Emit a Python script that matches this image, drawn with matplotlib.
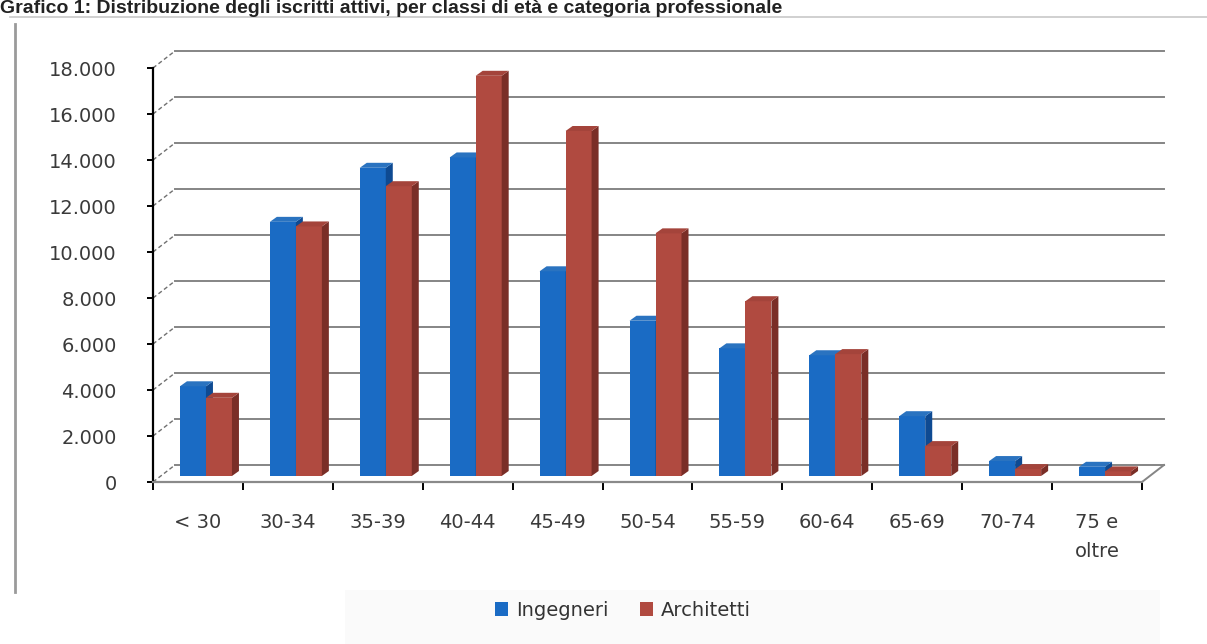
import matplotlib
matplotlib.use("Agg")
import matplotlib.pyplot as plt
from matplotlib.patches import Polygon, Patch, Rectangle
from matplotlib.lines import Line2D

# dati
categorie = ['< 30', '30-34', '35-39', '40-44', '45-49', '50-54',
             '55-59', '60-64', '65-69', '70-74', '75 e\noltre']
ingegneri = [3900, 11050, 13400, 13850, 8900, 6750, 5550, 5250, 2600, 650, 400]
architetti = [3400, 10850, 12600, 17400, 15000, 10550, 7600, 5300, 1300, 300, 200]
y_ticks = [0, 2000, 4000, 6000, 8000, 10000, 12000, 14000, 16000, 18000]
y_labels = ['0', '2.000', '4.000', '6.000', '8.000', '10.000',
            '12.000', '14.000', '16.000', '18.000']
serie = ['Ingegneri', 'Architetti']
titolo = 'Grafico 1: Distribuzione degli iscritti attivi, per classi di età e categoria professionale'

W, H = 1207, 644
fig = plt.figure(figsize=(W / 100, H / 100), dpi=100)
fig.patch.set_facecolor('white')

# posizione del piano frontale in pixel
x0, x1, y0, y1 = 153, 1142, 482, 68
ax = fig.add_axes([x0 / W, 1 - y0 / H, (x1 - x0) / W, (y0 - y1) / H])
ax.set_xlim(-0.5, len(categorie) - 0.5)
ax.set_ylim(0, 18000)
ax.set_facecolor('none')

px_x = len(categorie) / (x1 - x0)
px_y = 18000 / (y0 - y1)

wall_dx, wall_dy = 22 * px_x, 17 * px_y
bar_w = 26 * px_x
side_dx, top_dy = 7 * px_x, 5 * px_y
shift_x, shift_y = 8 * px_x, 6 * px_y

xl, xr = -0.5, len(categorie) - 0.5

# parete di fondo: griglia
for v in y_ticks:
    ax.add_line(Line2D([xl + wall_dx, xr + wall_dx], [v + wall_dy, v + wall_dy],
                       color='#858585', lw=1.4, clip_on=False, zorder=1))
    ax.add_line(Line2D([xl, xl + wall_dx], [v, v + wall_dy], color='#707070',
                       lw=1.0, ls=(0, (3, 2)), clip_on=False, zorder=1))
ax.add_line(Line2D([xr, xr + wall_dx], [0, wall_dy], color='#858585', lw=1.4,
                   clip_on=False, zorder=1))

colori = {
    'Ingegneri': ('#1a6bc4', '#0e4a92', '#2a73c0'),
    'Architetti': ('#b04a40', '#7a2e27', '#a4443b'),
}

xs = list(range(len(categorie)))
for nome, valori, off in [('Ingegneri', ingegneri, -bar_w / 2),
                          ('Architetti', architetti, bar_w / 2)]:
    front, side, top = colori[nome]
    pos = [x + off + shift_x for x in xs]
    bars = ax.bar(pos, valori, width=bar_w, bottom=shift_y, color=front,
                  edgecolor='none', zorder=3, clip_on=False)
    for b in bars:
        bx, by = b.get_x(), b.get_y()
        bw, bh = b.get_width(), b.get_height()
        ax.add_patch(Polygon([(bx + bw, by), (bx + bw + side_dx, by + top_dy),
                              (bx + bw + side_dx, by + bh + top_dy), (bx + bw, by + bh)],
                             closed=True, facecolor=side, edgecolor='none',
                             zorder=3, clip_on=False))
        ax.add_patch(Polygon([(bx, by + bh), (bx + bw, by + bh),
                              (bx + bw + side_dx, by + bh + top_dy),
                              (bx + side_dx, by + bh + top_dy)],
                             closed=True, facecolor=top, edgecolor='none',
                             zorder=3, clip_on=False))

# assi
for s in ['top', 'right']:
    ax.spines[s].set_visible(False)
ax.spines['left'].set_color('black')
ax.spines['left'].set_linewidth(1.6)
ax.spines['bottom'].set_color('#8a8a8a')
ax.spines['bottom'].set_linewidth(1.6)

ax.set_yticks(y_ticks)
ax.set_yticklabels(y_labels)
ax.tick_params(axis='y', length=4, width=1.4, color='black', pad=22,
               labelsize=14, labelcolor='#3a3a3a')

ax.set_xticks([x - 0.5 for x in xs] + [xr])
ax.set_xticklabels([])
ax.tick_params(axis='x', which='major', length=6, width=1.4, color='black')
ax.set_xticks(xs, minor=True)
ax.set_xticklabels(categorie, minor=True)
ax.tick_params(axis='x', which='minor', length=0, pad=22, labelsize=14,
               labelcolor='#3a3a3a')
for t in ax.get_xticklabels(minor=True):
    t.set_linespacing(1.7)

# titolo (in alto, parzialmente tagliato come nella scansione)
fig.text(0.0, 1 - 13 / H, titolo, fontsize=14, fontweight='bold',
         family=['Liberation Sans', 'DejaVu Sans'], color='#222222',
         ha='left', va='baseline')

# cornice
fig.add_artist(Line2D([10 / W, 1.0], [1 - 17 / H, 1 - 17 / H], color='#c8c8c8', lw=1.2))
fig.add_artist(Line2D([15 / W, 15 / W], [1 - 24 / H, 1 - 592 / H], color='#9a9a9a', lw=2))
fig.add_artist(Rectangle((345 / W, 0), (1160 - 345) / W, (644 - 590) / H,
                         facecolor='#fafafa', edgecolor='none', zorder=0))

handles = [Patch(facecolor=colori[n][0], edgecolor='none', label=n) for n in serie]
fig.legend(handles=handles, loc='center', bbox_to_anchor=(623 / W, 1 - 610 / H),
           ncol=2, frameon=False, fontsize=14, handlelength=0.7, handleheight=0.7,
           handletextpad=0.4, columnspacing=1.6, labelcolor='#333333')

plt.savefig('out.png', dpi=100)
